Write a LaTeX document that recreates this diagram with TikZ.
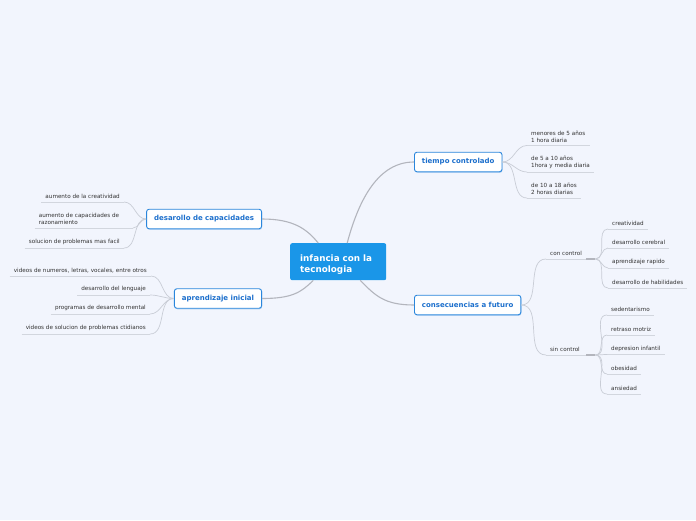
\documentclass[tikz,border=0pt]{standalone}
\usepackage{fontspec}
\setmainfont{DejaVu Sans}
\usetikzlibrary{shadows}
\definecolor{bg}{HTML}{F2F5FD}
\definecolor{cfill}{HTML}{1A96E8}
\definecolor{topicborder}{HTML}{2A86DC}
\definecolor{topictext}{HTML}{1C6FCC}
\definecolor{leaftext}{HTML}{333333}
\definecolor{ulinec}{HTML}{D2D6DE}
\definecolor{lconnc}{HTML}{C9CDD6}
\definecolor{mconnc}{HTML}{B3B5BD}
\tikzset{
  uline/.style={draw=ulinec, line width=0.7pt},
  leaf/.style={font=\fontsize{5.65}{7}\selectfont, text=leaftext, inner xsep=4pt, inner ysep=2.8pt, align=left,
    append after command={(\tikzlastnode.south west) edge[uline] (\tikzlastnode.south east)}},
  lconn/.style={draw=lconnc, line width=0.7pt},
  mconn/.style={draw=mconnc, line width=1.1pt},
  topic/.style={draw=topicborder, line width=0.9pt, fill=white, rounded corners=2.5pt,
    font=\bfseries\fontsize{7}{8}\selectfont, text=topictext, minimum height=19.5pt, inner xsep=7.5pt,
    drop shadow={shadow xshift=0.5pt, shadow yshift=-1pt, fill=topicborder, opacity=0.35}},
  central/.style={fill=cfill, rounded corners=2pt, text=white, font=\bfseries\fontsize{8.8}{11}\selectfont,
    align=left, text width=76pt, minimum width=96pt, minimum height=37pt, inner xsep=10pt},
}
\begin{document}
\begin{tikzpicture}[x=1pt,y=-1pt]
\fill[bg] (0,0) rectangle (696,520);
\useasboundingbox (0,0) rectangle (696,520);

% central
\node[central, anchor=north west] (c) at (290,243) {\rule{0pt}{12pt}infancia con la\\tecnologia};

% topics
\node[topic, anchor=east] (des) at (262,219) {desarollo de capacidades};
\node[topic, anchor=east] (apr) at (262,298.5) {aprendizaje inicial};
\node[topic, anchor=west] (tie) at (414,162) {tiempo controlado};
\node[topic, anchor=west] (con) at (414,305) {consecuencias a futuro};

% main connectors
\draw[mconn] ([xshift=-20pt]c.north) .. controls +(-12,-15) and +(30,0) .. (des.east);
\draw[mconn] ([xshift=-25pt]c.south) .. controls +(-12,12) and +(30,0) .. (apr.east);
\draw[mconn] ([xshift=9pt]c.north) .. controls +(12,-45) and +(-35,0) .. (tie.west);
\draw[mconn] ([xshift=22pt]c.south) .. controls +(15,15) and +(-30,0) .. (con.west);

% desarollo leaves
\node[leaf, anchor=south east] (d1) at (124,202) {aumento de la creatividad};
\node[leaf, anchor=south east, text width=90pt] (d2) at (133,228) {aumento de capacidades de\\razonamiento};
\node[leaf, anchor=south east] (d3) at (124,248) {solucion de problemas mas facil};
\foreach \n in {d1,d2,d3} \draw[lconn] (des.west) to[out=180,in=0] (\n.south east);

% aprendizaje leaves
\node[leaf, anchor=south east] (a1) at (151,276) {videos de numeros, letras, vocales, entre otros};
\node[leaf, anchor=south east] (a2) at (150,295) {desarrollo del lenguaje};
\node[leaf, anchor=south east] (a3) at (150,314) {programas de desarrollo mental};
\node[leaf, anchor=south east] (a4) at (150,334) {videos de solucion de problemas ctidianos};
\foreach \n in {a1,a2,a3,a4} \draw[lconn] (apr.west) to[out=180,in=0] (\n.south east);

% tiempo leaves
\node[leaf, anchor=south west] (t1) at (527,145.5) {menores de 5 años\\1 hora diaria};
\node[leaf, anchor=south west] (t2) at (527,172) {de 5 a 10 años\\1hora y media diaria};
\node[leaf, anchor=south west] (t3) at (527,198) {de 10 a 18 años\\2 horas diarias};
\foreach \n in {t1,t2,t3} \draw[lconn] (tie.east) to[out=0,in=180] (\n.south west);

% consecuencias
\node[leaf, anchor=south west, text width=41pt] (cc) at (546,259) {con control};
\node[leaf, anchor=south west, text width=41pt] (sc) at (546,355) {sin control};
\foreach \n in {cc,sc} \draw[lconn] (con.east) to[out=0,in=180] (\n.south west);
\draw[draw=mconnc, line width=1.1pt] ([xshift=-9pt]cc.south east) -- (cc.south east);
\draw[draw=mconnc, line width=1.1pt] ([xshift=-9pt]sc.south east) -- (sc.south east);

% con control leaves
\node[leaf, anchor=south west] (k1) at (608,229) {creatividad};
\node[leaf, anchor=south west] (k2) at (608,248) {desarrollo cerebral};
\node[leaf, anchor=south west] (k3) at (608,268) {aprendizaje rapido};
\node[leaf, anchor=south west] (k4) at (608,288) {desarrollo de habilidades};
\foreach \n in {k1,k2,k3,k4} \draw[lconn] (cc.south east) to[out=0,in=180] (\n.south west);

% sin control leaves
\node[leaf, anchor=south west] (s1) at (607,315) {sedentarismo};
\node[leaf, anchor=south west] (s2) at (607,335) {retraso motriz};
\node[leaf, anchor=south west] (s3) at (607,354.5) {depresion infantil};
\node[leaf, anchor=south west] (s4) at (607,374) {obesidad};
\node[leaf, anchor=south west] (s5) at (607,394) {ansiedad};
\foreach \n in {s1,s2,s3,s4,s5} \draw[lconn] (sc.south east) to[out=0,in=180] (\n.south west);
\end{tikzpicture}
\end{document}
